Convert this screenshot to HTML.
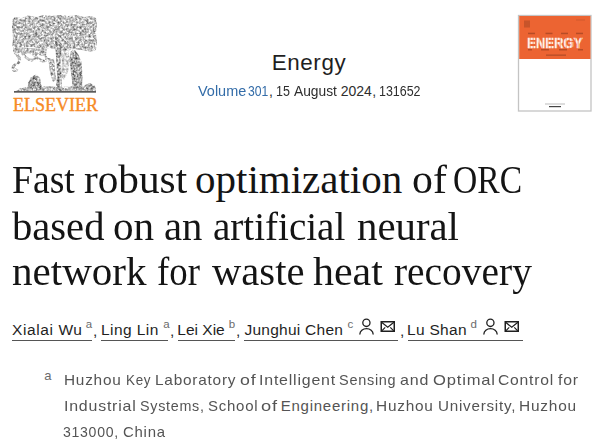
<!DOCTYPE html>
<html><head><meta charset="utf-8">
<style>
html,body{margin:0;padding:0;background:#fff;width:600px;height:446px;overflow:hidden;position:relative}
body{font-family:"Liberation Sans",sans-serif;color:#1f1f1f}
.a{position:absolute;white-space:nowrap}
#energy{left:0;width:618px;text-align:center;top:49px;font-size:22.4px;letter-spacing:0.6px;line-height:28px;color:#1f1f1f}
.vw{top:80.65px;font-size:14px;line-height:20px;transform-origin:0 0}
.t{font-family:"Liberation Serif",serif;font-size:41px;line-height:46px;color:#141414;transform-origin:0 0}
.nm{font-size:15.5px;line-height:20px;color:#1f1f1f;top:320px}
.ul{position:absolute;height:1.5px;background:#555;top:339.5px}
.sup{position:absolute;font-size:11.5px;line-height:12px;color:#6b6b6b}
.cm{position:absolute;font-size:15.5px;line-height:20px;color:#1f1f1f;top:321px}
.aw{font-size:15px;line-height:26px;color:#545454;letter-spacing:0.75px;transform-origin:0 0}
#elsv{left:13px;top:96.3px;font-family:"Liberation Serif",serif;font-size:18px;line-height:18px;color:#f68a26;-webkit-text-stroke:0.35px #f68a26}
</style></head><body>
<!-- tree logo -->
<svg class="a" style="left:0;top:0" width="110" height="100" viewBox="0 0 110 100">
  <defs>
    <filter id="tx" x="0" y="0" width="110" height="100" filterUnits="userSpaceOnUse" color-interpolation-filters="sRGB">
      <feTurbulence type="fractalNoise" baseFrequency="0.45" numOctaves="2" seed="5" result="n"/>
      <feColorMatrix in="n" type="matrix" values="1.1 0 0 0 0.2  1.1 0 0 0 0.2  1.1 0 0 0 0.2  0 0 0 0 1" result="m"/>
      <feGaussianBlur in="m" stdDeviation="0.5" result="b"/><feComposite in="b" in2="SourceGraphic" operator="in"/>
    </filter>
    <filter id="tx2" x="0" y="0" width="110" height="100" filterUnits="userSpaceOnUse" color-interpolation-filters="sRGB">
      <feTurbulence type="fractalNoise" baseFrequency="0.45" numOctaves="2" seed="9" result="n"/>
      <feColorMatrix in="n" type="matrix" values="1.2 0 0 0 0.04  1.2 0 0 0 0.04  1.2 0 0 0 0.04  0 0 0 0 1" result="m"/>
      <feGaussianBlur in="m" stdDeviation="0.5" result="b"/><feComposite in="b" in2="SourceGraphic" operator="in"/>
    </filter>
  </defs>
  <g filter="url(#tx)">
    <path d="M12,20 L15,17 L22,18 L28,15.5 L36,17 L44,15 L52,16 L60,15 L68,16 L76,15 L84,17 L91,16 L96,18 L97,26 L96,34 L97,42 L96,50 L90,52 L82,50 L74,49 L66,51 L58,50 L50,48 L42,49 L34,47 L26,47 L18,48 L12,46 L13,38 L12,30 Z" fill="#000"/>
    <path d="M13,47 L47,49 L46,56 L30,54 L20,53 L13,52 Z" fill="#000"/>
    <path d="M15,52 C18,56 21,58 19,62 C17,65 13,64 13,68 C13,71 16,71 17,69" fill="none" stroke="#000" stroke-width="3"/>
    <path d="M22,53 C25,57 29,61 33,60 C36,59 36,56 34,55" fill="none" stroke="#000" stroke-width="2.6"/>
    <path d="M33,54 C37,58 41,62 45,61 C47,60 47,57 45,56" fill="none" stroke="#000" stroke-width="2.6"/>
    <path d="M47,58 C50,64 49,70 51,76 L53,82 L56,80 L55,68 L54,58 Z" fill="#000"/>
    <path d="M60,50 L68,50 L70,60 L68,72 L64,80 L61,76 L62,62 Z" fill="#000" opacity="0.7"/>
    <path d="M16,91 L20,88 L28,87 L45,86 L60,87 L75,86 L88,87 L96,88 L96,91 Z" fill="#000"/>
  </g>
  <g filter="url(#tx2)">
    <path d="M55,40 L59,40 L61,50 L60.5,62 L61.5,76 L62,91 L55.5,91 L57,76 L56.5,62 L55.5,50 Z" fill="#000"/>
    <path d="M71,51 L75,50 L78,54 L81.5,62 L82.5,76 L82,90 L73,90 L71.5,76 L69.5,62 L70,55 Z" fill="#000"/>
    <path d="M27,90 L28,83 L31,77 L36,74.5 L40,78 L41,84 L43,90 Z" fill="#000"/>
    <path d="M82,90 L85,85 L90,83 L95,86 L96,90 Z" fill="#000"/>
  </g>
  <rect x="14" y="91" width="82" height="1.7" fill="#5a5a5a"/>
</svg>
<div id="elsv" class="a">ELSEVIER</div>

<div id="energy" class="a">Energy</div>
<div class="a vw" style="left:197.50px;transform:scaleX(1.0326);color:#336ca8">Volume</div>
<div class="a vw" style="left:248.33px;transform:scaleX(0.8682);color:#336ca8">301</div>
<div class="a vw" style="left:269.00px;transform:scaleX(1.0000);color:#2e2e2e">,</div>
<div class="a vw" style="left:275.81px;transform:scaleX(0.8929);color:#2e2e2e">15</div>
<div class="a vw" style="left:294.20px;transform:scaleX(0.9841);color:#2e2e2e">August</div>
<div class="a vw" style="left:340.70px;transform:scaleX(1.0000);color:#2e2e2e">2024</div>
<div class="a vw" style="left:372.30px;transform:scaleX(1.0000);color:#2e2e2e">,</div>
<div class="a vw" style="left:379.11px;transform:scaleX(0.8889);color:#2e2e2e">131652</div>

<!-- cover -->
<svg class="a" style="left:516px;top:13px" width="78" height="101" viewBox="0 0 78 101">
  <rect x="2.5" y="2.5" width="72.5" height="95.5" fill="#fff" stroke="#c4c4c4" stroke-width="1.3"/>
  <rect x="3.2" y="3" width="71.3" height="43" fill="#ec6432"/>
  <g fill="#8a3a1e" opacity="0.55">
    <rect x="8" y="7.5" width="6" height="7" opacity="0.7"/>
    <rect x="60" y="6.5" width="9" height="1" opacity="0.5"/>
    <rect x="12" y="19.7" width="7" height="1.5"/>
    <rect x="29.5" y="19.7" width="7" height="1.5"/>
    <rect x="45" y="19.7" width="7" height="1.5"/>
    <rect x="60" y="19.7" width="7" height="1.5"/>
    <rect x="12" y="36" width="4" height="1.5"/>
    <rect x="25" y="36" width="8" height="1.5"/>
    <rect x="43" y="36" width="8" height="1.5"/>
    <rect x="62" y="36" width="5" height="1.5"/>
    <rect x="30" y="41.5" width="20" height="1.3"/>
  </g>
  <defs><pattern id="st" width="1.5" height="4" patternUnits="userSpaceOnUse"><rect width="0.8" height="4" fill="#fff"/><rect x="0.8" width="0.7" height="4" fill="#f7a989"/></pattern></defs>
  <text x="11" y="34.6" font-family="Liberation Sans" font-weight="bold" font-size="15.4" fill="url(#st)" stroke="url(#st)" stroke-width="0.7" textLength="55.5" lengthAdjust="spacingAndGlyphs">ENERGY</text>
  <rect x="29" y="90.5" width="20" height="1" fill="#bbb"/>
  <rect x="33" y="93" width="12" height="1.2" fill="#444"/>
</svg>

<div class="a t" style="top:155.9px;left:11.78px;transform:scaleX(0.9194)">Fast</div>
<div class="a t" style="top:155.9px;left:84.09px;transform:scaleX(1.0059)">robust</div>
<div class="a t" style="top:155.9px;left:195.00px;transform:scaleX(1.0000)">optimization</div>
<div class="a t" style="top:155.9px;left:411.66px;transform:scaleX(1.0188)">of</div>
<div class="a t" style="top:155.9px;left:453.36px;transform:scaleX(0.8187)">ORC</div>
<div class="a t" style="top:202.7px;left:11.71px;transform:scaleX(0.9902)">based</div>
<div class="a t" style="top:202.7px;left:113.19px;transform:scaleX(1.0026)">on</div>
<div class="a t" style="top:202.7px;left:164.01px;transform:scaleX(0.9919)">an</div>
<div class="a t" style="top:202.7px;left:213.25px;transform:scaleX(0.9526)">artificial</div>
<div class="a t" style="top:202.7px;left:356.50px;transform:scaleX(0.9950)">neural</div>
<div class="a t" style="top:248px;left:11.70px;transform:scaleX(1.0008)">network</div>
<div class="a t" style="top:248px;left:156.60px;transform:scaleX(0.8979)">for</div>
<div class="a t" style="top:248px;left:211.70px;transform:scaleX(0.9902)">waste</div>
<div class="a t" style="top:248px;left:313.38px;transform:scaleX(1.0239)">heat</div>
<div class="a t" style="top:248px;left:394.04px;transform:scaleX(0.9613)">recovery</div>

<div id="n1" class="a nm" style="left:12px;letter-spacing:0.6px">Xialai Wu</div>
<div class="sup" style="left:85.8px;top:318px">a</div>
<div class="ul" style="left:12px;width:80px"></div>
<div class="cm" style="left:93px">,</div>

<div id="n2" class="a nm" style="left:101px;letter-spacing:0.43px">Ling Lin</div>
<div class="sup" style="left:163.3px;top:318px">a</div>
<div class="ul" style="left:101px;width:67px"></div>
<div class="cm" style="left:170px">,</div>

<div id="n3" class="a nm" style="left:177.3px">Lei Xie</div>
<div class="sup" style="left:228.7px;top:318px">b</div>
<div class="ul" style="left:178px;width:57px"></div>
<div class="cm" style="left:236px">,</div>

<div id="n4" class="a nm" style="left:244.5px;letter-spacing:0.25px">Junghui Chen</div>
<div class="sup" style="left:347.5px;top:318px">c</div>
<div class="ul" style="left:244px;width:154px"></div>
<svg class="a" style="left:357.5px;top:317px" width="17" height="19" viewBox="0 0 17 19"><ellipse cx="8.4" cy="5.8" rx="3.6" ry="3.7" fill="none" stroke="#1f1f1f" stroke-width="1.3"/><path d="M1.9,17 A6.6,5.4 0 0 1 15.1,17" fill="none" stroke="#1f1f1f" stroke-width="1.3" stroke-linecap="round"/></svg>
<svg class="a" style="left:380px;top:320px" width="16" height="13" viewBox="0 0 16 13"><rect x="1.25" y="1.75" width="13" height="9.5" fill="none" stroke="#1f1f1f" stroke-width="1.5"/><path d="M1.6,2.2 L7.75,7.3 L13.9,2.2 M1.8,10.8 L5.2,7.4 M13.7,10.8 L10.3,7.4" fill="none" stroke="#1f1f1f" stroke-width="1.2"/></svg>

<div class="cm" style="left:400px">,</div>

<div id="n5" class="a nm" style="left:407px;letter-spacing:0.3px">Lu Shan</div>
<div class="sup" style="left:470.5px;top:318px">d</div>
<div class="ul" style="left:408px;width:115px"></div>
<svg class="a" style="left:481.5px;top:317px" width="17" height="19" viewBox="0 0 17 19"><ellipse cx="8.4" cy="5.8" rx="3.6" ry="3.7" fill="none" stroke="#1f1f1f" stroke-width="1.3"/><path d="M1.9,17 A6.6,5.4 0 0 1 15.1,17" fill="none" stroke="#1f1f1f" stroke-width="1.3" stroke-linecap="round"/></svg>
<svg class="a" style="left:504px;top:320px" width="16" height="13" viewBox="0 0 16 13"><rect x="1.25" y="1.75" width="13" height="9.5" fill="none" stroke="#1f1f1f" stroke-width="1.5"/><path d="M1.6,2.2 L7.75,7.3 L13.9,2.2 M1.8,10.8 L5.2,7.4 M13.7,10.8 L10.3,7.4" fill="none" stroke="#1f1f1f" stroke-width="1.2"/></svg>


<div class="sup" style="left:44.2px;top:368.6px;font-size:13px;line-height:13px">a</div>
<div class="a aw" style="top:366.8px;left:63.68px;transform:scaleX(1.0241)">Huzhou</div>
<div class="a aw" style="top:366.8px;left:125.80px;transform:scaleX(0.8962)">Key</div>
<div class="a aw" style="top:366.8px;left:154.77px;transform:scaleX(1.0256)">Laboratory</div>
<div class="a aw" style="top:366.8px;left:239.62px;transform:scaleX(1.1833)">of</div>
<div class="a aw" style="top:366.8px;left:258.54px;transform:scaleX(1.0620)">Intelligent</div>
<div class="a aw" style="top:366.8px;left:339.04px;transform:scaleX(0.9649)">Sensing</div>
<div class="a aw" style="top:366.8px;left:400.18px;transform:scaleX(1.0660)">and</div>
<div class="a aw" style="top:366.8px;left:432.65px;transform:scaleX(1.1028)">Optimal</div>
<div class="a aw" style="top:366.8px;left:498.15px;transform:scaleX(1.0451)">Control</div>
<div class="a aw" style="top:366.8px;left:557.50px;transform:scaleX(1.0526)">for</div>
<div class="a aw" style="top:392.8px;left:63.94px;transform:scaleX(1.0606)">Industrial</div>
<div class="a aw" style="top:392.8px;left:140.30px;transform:scaleX(0.9546)">Systems,</div>
<div class="a aw" style="top:392.8px;left:207.75px;transform:scaleX(0.9990)">School</div>
<div class="a aw" style="top:392.8px;left:260.88px;transform:scaleX(1.2167)">of</div>
<div class="a aw" style="top:392.8px;left:280.70px;transform:scaleX(1.0000)">Engineering,</div>
<div class="a aw" style="top:392.8px;left:376.47px;transform:scaleX(1.0259)">Huzhou</div>
<div class="a aw" style="top:392.8px;left:438.19px;transform:scaleX(1.0135)">University,</div>
<div class="a aw" style="top:392.8px;left:518.97px;transform:scaleX(1.0296)">Huzhou</div>
<div class="a aw" style="top:419px;left:63.26px;transform:scaleX(0.9386)">313000,</div>
<div class="a aw" style="top:419px;left:122.70px;transform:scaleX(0.9951)">China</div>
</body></html>
